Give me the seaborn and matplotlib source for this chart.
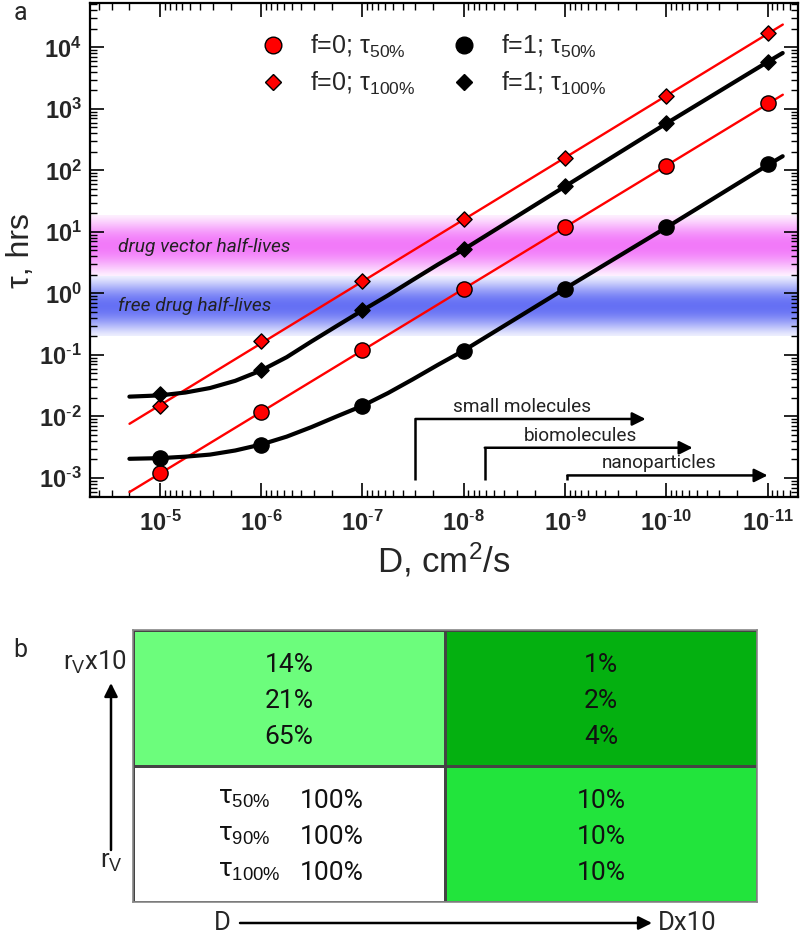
import numpy as np
import pandas as pd
import matplotlib
matplotlib.use("Agg")
import matplotlib.pyplot as plt
import seaborn as sns
from matplotlib.colors import ListedColormap, to_rgb
from matplotlib.lines import Line2D
from matplotlib.ticker import LogLocator, FixedLocator, FuncFormatter, NullFormatter
import matplotlib.transforms as mtrans

# ---------------- data (panel a) ----------------
D_points = [1e-5, 1e-6, 1e-7, 1e-8, 1e-9, 1e-10, 1e-11]
tau50_f0 = [1.2e-3, 1.2e-2, 0.12, 1.2, 12, 120, 1230]
tau100_f0 = [0.0150, 0.166, 1.62, 16, 158, 1600, 17400]
tau50_f1 = [2.1e-3, 3.5e-3, 0.0149, 0.118, 1.2, 11.8, 125]
tau100_f1 = [0.023, 0.057, 0.53, 5.2, 55, 590, 5800]

# straight fit lines for f=0 (end points)
line_D_f0 = [10**-4.7, 10**-11.15]
line50_f0 = [5.9e-4, 1700]
line100_f0 = [7.6e-3, 23500]

# curved fit lines for f=1
curve_D_f1 = [2.0e-5, 1e-5, 5.6e-6, 3.2e-6, 1.8e-6, 1e-6, 5.6e-7, 3.2e-7,
              1.8e-7, 1e-7, 5.6e-8, 3.2e-8, 1.8e-8, 1e-8,
              1e-9, 1e-10, 1e-11, 7.1e-12]
curve50_f1 = [0.00205, 0.0021, 0.00222, 0.0024, 0.0028, 0.0035, 0.0047, 0.0067,
              0.0100, 0.0149, 0.024, 0.040, 0.069, 0.118,
              1.2, 11.8, 122, 170]
curve100_f1 = [0.021, 0.022, 0.0245, 0.029, 0.038, 0.056, 0.092, 0.165,
               0.295, 0.53, 0.93, 1.65, 2.95, 5.2,
               55, 580, 5800, 8100]

x_tick_values = [1e-5, 1e-6, 1e-7, 1e-8, 1e-9, 1e-10, 1e-11]
y_tick_values = [1e-3, 1e-2, 1e-1, 1e0, 1e1, 1e2, 1e3, 1e4]

legend_labels = ["f=0; τ$_{50\\%}$", "f=0; τ$_{100\\%}$",
                 "f=1; τ$_{50\\%}$", "f=1; τ$_{100\\%}$"]

band_ranges = [(1.9, 19.0), (0.2, 1.9)]
band_labels = ["drug vector half-lives", "free drug half-lives"]
band_label_tau = [5.8, 0.62]
band_colors = ["#f27af9", "#6570f4"]

# size classes: (label, start D, end D, level tau)
class_labels = ["small molecules", "biomolecules", "nanoparticles"]
class_start_D = [3.0e-8, 6.2e-9, 9.5e-10]
class_end_D = [1.6e-10, 5.5e-11, 1.0e-11]
class_level = [9.1e-3, 3.1e-3, 1.1e-3]
class_base = 9.1e-4

# ---------------- data (panel b) ----------------
cell_levels = [[1, 3], [0, 2]]
cell_colors = ["#ffffff", "#6cfd7c", "#22e43c", "#04b010"]
top_left = ["14%", "21%", "65%"]
top_right = ["1%", "2%", "4%"]
bottom_left_tau = ["τ$_{50\\%}$", "τ$_{90\\%}$", "τ$_{100\\%}$"]
bottom_left_val = ["100%", "100%", "100%"]
bottom_right = ["10%", "10%", "10%"]

# ---------------- style ----------------
sns.set_style("ticks")
plt.rcParams["font.family"] = ["Liberation Sans", "DejaVu Sans"]
plt.rcParams["mathtext.fontset"] = "custom"
plt.rcParams["mathtext.rm"] = "Liberation Sans"
plt.rcParams["mathtext.it"] = "Liberation Sans:italic"
plt.rcParams["mathtext.bf"] = "Liberation Sans:bold"
plt.rcParams["mathtext.sf"] = "Liberation Sans"

fig = plt.figure(figsize=(8, 9.35), dpi=100)
ax = fig.add_axes([0.1125, 0.4684, 0.885, 0.5283])
ax.set_xscale("log")
ax.set_yscale("log")

# gradient bands
for (lo, hi), col in zip(band_ranges, band_colors):
    n = 60
    edges = np.logspace(np.log10(lo), np.log10(hi), n + 1)
    c = np.array(to_rgb(col))
    for i in range(n):
        t = (i + 0.5) / n
        w = 0.12 + 0.88 * np.sin(np.pi * t) ** 1.3
        rgb = 1 - w * (1 - c)
        ax.axhspan(edges[i], edges[i + 1], color=rgb, lw=0, zorder=0)

# lines
sns.lineplot(x=line_D_f0, y=line50_f0, color="#ff0000", lw=1.7, ax=ax,
             sort=False, estimator=None, legend=False, zorder=2)
sns.lineplot(x=line_D_f0, y=line100_f0, color="#ff0000", lw=1.7, ax=ax,
             sort=False, estimator=None, legend=False, zorder=2)
sns.lineplot(x=curve_D_f1, y=curve50_f1, color="black", lw=3.0, ax=ax,
             sort=False, estimator=None, legend=False, zorder=2)
sns.lineplot(x=curve_D_f1, y=curve100_f1, color="black", lw=3.0, ax=ax,
             sort=False, estimator=None, legend=False, zorder=2)

# markers
sns.scatterplot(x=D_points, y=tau50_f0, marker="o", s=120, color="#ff0000",
                edgecolor="black", linewidth=1.0, ax=ax, zorder=5, legend=False)
sns.scatterplot(x=D_points, y=tau100_f0, marker="D", s=60, color="#ff0000",
                edgecolor="black", linewidth=1.0, ax=ax, zorder=5, legend=False)
sns.scatterplot(x=D_points, y=tau50_f1, marker="o", s=120, color="black",
                edgecolor="black", linewidth=1.0, ax=ax, zorder=5, legend=False)
sns.scatterplot(x=D_points, y=tau100_f1, marker="D", s=60, color="black",
                edgecolor="black", linewidth=1.0, ax=ax, zorder=5, legend=False)

ax.set_xlim(10**-4.31, 10**-11.3)
ax.set_ylim(10**-3.31, 10**4.72)

def fmt(v, pos):
    e = int(round(np.log10(v)))
    if e < 0:
        return r"$\mathbf{10^{\text{-}%d}}$" % (-e)
    return r"$\mathbf{10^{%d}}$" % e

ax.xaxis.set_major_locator(FixedLocator(x_tick_values))
ax.yaxis.set_major_locator(FixedLocator(y_tick_values))
for axis in (ax.xaxis, ax.yaxis):
    axis.set_minor_locator(LogLocator(base=10, subs=np.arange(2, 10), numticks=30))
    axis.set_major_formatter(FuncFormatter(fmt))
    axis.set_minor_formatter(NullFormatter())

ax.tick_params(which="both", direction="in", top=True, right=True, color="black")
ax.tick_params(which="major", length=10, width=1.2, labelsize=17)
ax.tick_params(axis="x", which="major", pad=10)
ax.tick_params(axis="y", which="major", pad=6)
ax.tick_params(which="minor", length=5, width=1.0)
for s in ax.spines.values():
    s.set_visible(True)
    s.set_linewidth(1.6)
    s.set_color("black")

ax.set_xlabel("D, cm$^2$/s", fontsize=25, labelpad=3)
ax.set_ylabel("τ, hrs", fontsize=23, labelpad=2)

# band labels
trans = mtrans.blended_transform_factory(ax.transAxes, ax.transData)
for lab, yv in zip(band_labels, band_label_tau):
    ax.text(0.04, yv, lab, transform=trans, fontsize=13.8, style="italic",
            family="Roboto", color="#222222", va="center", ha="left", zorder=3)

# size class arrows
for lab, x0, x1, yv in zip(class_labels, class_start_D, class_end_D, class_level):
    ax.plot([x0, x0], [class_base, yv], color="black", lw=1.8, zorder=3,
            solid_capstyle="butt")
    ax.annotate("", xy=(x1, yv), xytext=(x0, yv),
                arrowprops=dict(arrowstyle="-|>", color="black", lw=1.8,
                                mutation_scale=20, shrinkA=0, shrinkB=0),
                zorder=3)
    xm = 10 ** ((np.log10(x0) + np.log10(x1)) / 2 + 0.08)
    ax.text(xm, yv * 1.12, lab, fontsize=13.7, family="Roboto", color="#222222",
            ha="center", va="bottom", zorder=3)

# legend
handles = [
    Line2D([], [], marker="o", ls="", markerfacecolor="#ff0000",
           markeredgecolor="black", markersize=12),
    Line2D([], [], marker="D", ls="", markerfacecolor="#ff0000",
           markeredgecolor="black", markersize=8.5),
    Line2D([], [], marker="o", ls="", markerfacecolor="black",
           markeredgecolor="black", markersize=12),
    Line2D([], [], marker="D", ls="", markerfacecolor="black",
           markeredgecolor="black", markersize=8.5),
]
ax.legend(handles, legend_labels, ncol=2, loc="upper left",
          bbox_to_anchor=(0.2097, 0.9858), frameon=False, fontsize=18,
          handlelength=1.0, handletextpad=0.98, columnspacing=1.4,
          labelspacing=0.4, borderpad=0.4)

fig.text(14 / 800, 1 - 13 / 935, "a", fontsize=18, family="Roboto",
         ha="left", va="center")

# ---------------- panel b ----------------
axb = fig.add_axes([133 / 800, 1 - 902 / 935, 624 / 800, 272 / 935])
sns.heatmap(np.array(cell_levels), cmap=ListedColormap(cell_colors),
            vmin=-0.5, vmax=3.5, cbar=False, linewidths=1.0,
            linecolor="#444444", xticklabels=False, yticklabels=False, ax=axb)
for s in axb.spines.values():
    s.set_visible(True)
    s.set_color("#888888")
    s.set_linewidth(1.2)

offs = [-0.245, 0.025, 0.29]
for i in range(3):
    axb.text(0.5, 0.5 + offs[i], top_left[i], ha="center", va="center",
             fontsize=19, family="Roboto", color="#111111")
    axb.text(1.5, 0.5 + offs[i], top_right[i], ha="center", va="center",
             fontsize=19, family="Roboto", color="#111111")
    axb.text(1.5, 1.5 + offs[i], bottom_right[i], ha="center", va="center",
             fontsize=19, family="Roboto", color="#111111")
    axb.text(0.272, 1.5 + offs[i] - 0.02, bottom_left_tau[i], ha="left",
             va="center", fontsize=19, family="Roboto", color="#111111")
    axb.text(0.535, 1.5 + offs[i], bottom_left_val[i], ha="left",
             va="center", fontsize=19, family="Roboto", color="#111111")

fig.text(13 / 800, 1 - 650 / 935, "b", fontsize=18, family="Roboto",
         ha="left", va="center")
fig.text(63 / 800, 1 - 662 / 935, "r$_\\mathrm{V}$x10", fontsize=18.5,
         family="Roboto", ha="left", va="center")
fig.text(100 / 800, 1 - 862 / 935, "r$_\\mathrm{V}$", fontsize=18.5,
         family="Roboto", ha="left", va="center")
fig.text(222 / 800, 1 - 923 / 935, "D", fontsize=18.5, family="Roboto",
         ha="center", va="center")
fig.text(658 / 800, 1 - 923 / 935, "Dx10", fontsize=18.5, family="Roboto",
         ha="left", va="center")
fig.add_artist(matplotlib.patches.FancyArrowPatch(
    (111 / 800, 1 - 850 / 935), (111 / 800, 1 - 683 / 935),
    transform=fig.transFigure, arrowstyle="-|>", mutation_scale=20,
    color="black", lw=1.8, shrinkA=0, shrinkB=0))
fig.add_artist(matplotlib.patches.FancyArrowPatch(
    (240 / 800, 1 - 923 / 935), (652 / 800, 1 - 923 / 935),
    transform=fig.transFigure, arrowstyle="-|>", mutation_scale=20,
    color="black", lw=1.8, shrinkA=0, shrinkB=0))

fig.savefig("out.png", dpi=100)
